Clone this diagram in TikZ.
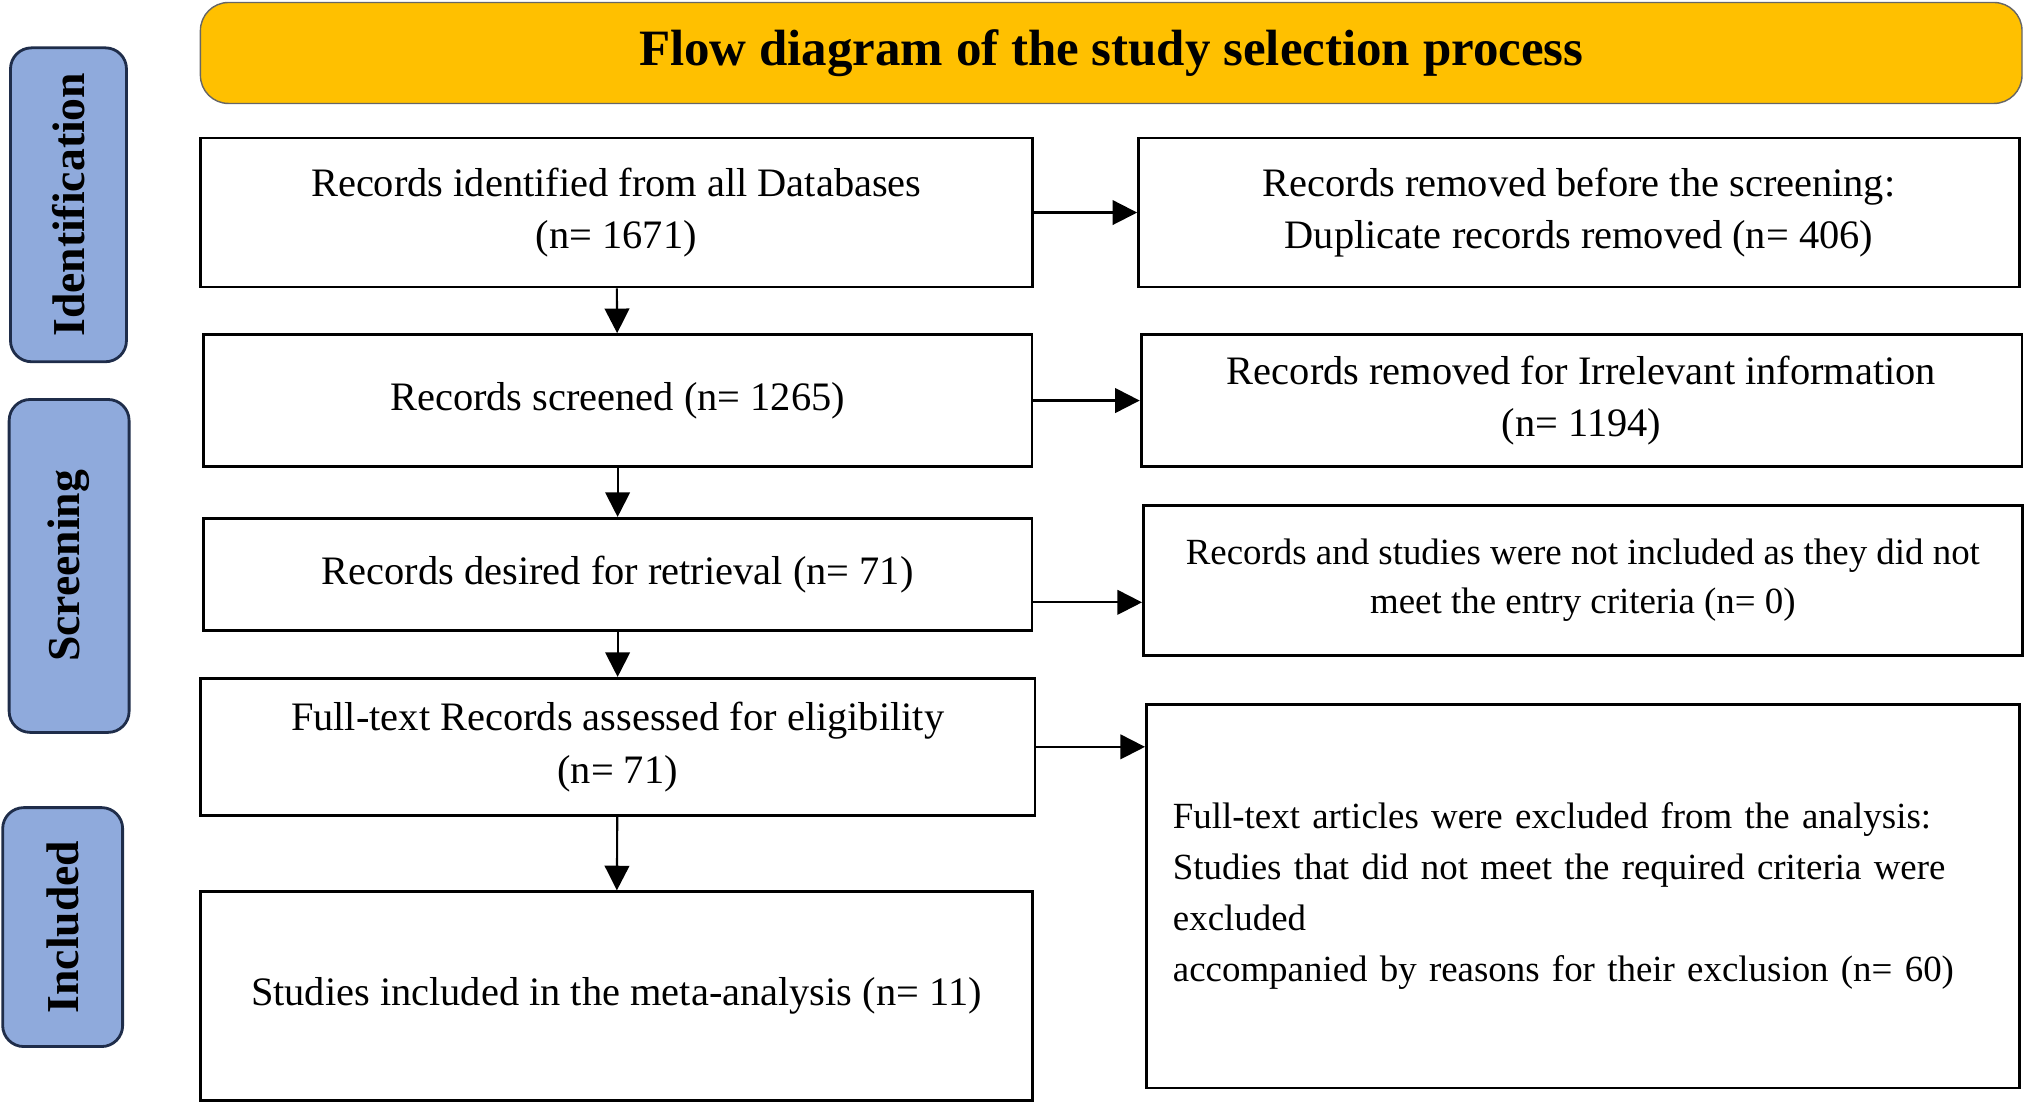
\documentclass[tikz,border=0pt]{standalone}
\usepackage{fontspec}
\setmainfont{Liberation Serif}
\usetikzlibrary{arrows.meta,positioning}
\definecolor{titlegold}{HTML}{FFC000}
\definecolor{sidebar}{HTML}{8FAADC}
\definecolor{sideline}{HTML}{1F2D4A}
\tikzset{
  box/.style={draw, thick, fill=white, align=center, font=\fontsize{11.5}{15}\selectfont},
  side/.style={draw=sideline, thick, rounded corners=6pt, fill=sidebar, rotate=90,
    font=\bfseries\fontsize{13}{15}\selectfont},
  flow/.style={-{Triangle[length=7pt,width=7pt]}, semithick}
}
\begin{document}
\begin{tikzpicture}[x=0.01292cm,y=-0.01292cm]
\useasboundingbox (0,0) rectangle (1568,854);
% title and stages
\node[draw=black!60, rounded corners=8pt, fill=titlegold, minimum width=18.22cm, minimum height=1.01cm,
  font=\bfseries\fontsize{14.5}{17}\selectfont] (title) at (860,41) {Flow diagram of the study selection process};
\node[side, minimum width=3.14cm, minimum height=1.16cm] (ident) at (53,158.5) {Identification};
\node[side, minimum width=3.33cm, minimum height=1.20cm] (screen) at (53.5,438) {Screening};
\node[side, minimum width=2.39cm, minimum height=1.20cm] (incl) at (48.5,717.5) {Included};
% main column
\node[box, minimum width=8.32cm, minimum height=1.49cm] (ident0) at (477,164.5) {Records identified from all Databases\\(n= 1671)};
\node[box, minimum width=8.29cm, minimum height=1.32cm] (screen0) at (478,310) {Records screened (n= 1265)};
\node[box, minimum width=8.29cm, minimum height=1.12cm] (retr) at (478,444.5) {Records desired for retrieval (n= 71)};
\node[box, minimum width=8.35cm, minimum height=1.37cm] (elig) at (478,578) {Full-text Records assessed for eligibility\\(n= 71)};
\node[box, minimum width=8.32cm, minimum height=2.09cm] (meta) at (477,771) {Studies included in the meta-analysis (n= 11)};
% removed column
\node[box, minimum width=8.81cm, minimum height=1.49cm] (dup) at (1222,164.5) {Records removed before the screening:\\Duplicate records removed (n= 406)};
\node[box, minimum width=8.81cm, minimum height=1.32cm] (irrel) at (1224,310) {Records removed for Irrelevant information\\(n= 1194)};
\node[box, minimum width=8.79cm, minimum height=1.50cm, font=\fontsize{10.5}{14}\selectfont] (entry) at (1225,449) {Records and studies were not included as they did not\\meet the entry criteria (n= 0)};
\node[box, minimum width=8.73cm, minimum height=3.84cm, text width=8.2cm, align=left, font=\fontsize{10.5}{14.5}\selectfont] (excl) at (1225,693.5) {Full-text articles were excluded from the analysis:\\Studies that did not meet the required criteria were excluded\\accompanied by reasons for their exclusion (n= 60)};
% connectors
\draw[flow] (ident0) -- (screen0);
\draw[flow] (screen0) -- (retr);
\draw[flow] (retr) -- (elig);
\draw[flow] (elig) -- (meta);
\draw[flow] (ident0.east) -- (ident0.east -| dup.west);
\draw[flow] (screen0.east) -- (screen0.east -| irrel.west);
\draw[flow] ([yshift=-0.28cm]retr.east) -- ([yshift=-0.28cm]retr.east -| entry.west);
\draw[flow] (elig.east) -- (elig.east -| excl.west);
\end{tikzpicture}
\end{document}
